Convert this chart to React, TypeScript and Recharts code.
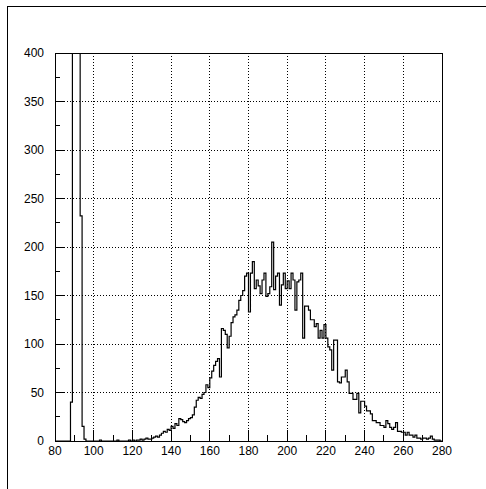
import { LineChart, Line, XAxis, YAxis, ReferenceLine, ReferenceArea } from 'recharts';

// histogram: 1-unit bins starting at 80
const binLow = 80;
const binHigh = 280;
const counts = [
  0, 0, 0, 0, 0, 0, 0, 0, 40, 1480,
  3900, 2650, 820, 232, 15, 2, 0, 0, 0, 0,
  0, 0, 0, 1, 0, 0, 0, 0, 0, 0,
  0, 0, 1, 0, 0, 0, 0, 0, 1, 0,
  1, 0, 1, 1, 2, 1, 2, 3, 2, 2,
  3, 4, 5, 4, 6, 8, 10, 9, 12, 11,
  15, 13, 18, 16, 23, 22, 20, 19, 21, 23,
  24, 27, 35, 42, 45, 44, 48, 50, 58, 55,
  65, 72, 78, 82, 85, 66, 116, 114, 110, 96,
  108, 122, 128, 130, 135, 145, 150, 155, 170, 173,
  133, 173, 185, 157, 166, 160, 152, 166, 173, 149,
  152, 159, 205, 156, 170, 173, 140, 161, 173, 157,
  165, 157, 173, 166, 135, 164, 166, 173, 106, 139,
  139, 135, 125, 125, 118, 121, 106, 114, 106, 120,
  106, 97, 94, 73, 104, 104, 61, 60, 66, 66,
  73, 61, 49, 49, 43, 43, 49, 29, 41, 41,
  36, 31, 31, 28, 21, 21, 19, 19, 16, 16,
  14, 21, 18, 14, 12, 14, 19, 10, 10, 9,
  9, 6, 9, 6, 6, 4, 6, 3, 3, 2,
  3, 3, 2, 3, 5, 2, 1, 1, 1, 0,
];

const xTicks = [80, 90, 100, 110, 120, 130, 140, 150, 160, 170, 180, 190, 200, 210, 220, 230, 240, 250, 260, 270, 280];
const xGrid = [100, 120, 140, 160, 180, 200, 220, 240, 260];
const yTicks = [0, 25, 50, 75, 100, 125, 150, 175, 200, 225, 250, 275, 300, 325, 350, 375, 400];
const yGrid = [50, 100, 150, 200, 250, 300, 350];

const data = counts.map((c, i) => ({ x: binLow + i, y: c }));
data.push({ x: binHigh, y: counts[counts.length - 1] });

const XTick = (props: any) => {
  const { x, y, payload } = props;
  const major = payload.value % 20 === 0;
  return (
    <g>
      <line x1={x} x2={x} y1={y} y2={y - (major ? 11 : 6)} stroke="#000" shapeRendering="crispEdges" />
      {major && (
        <text x={x} y={y + 14} textAnchor="middle" fontSize={12} fill="#000">
          {payload.value}
        </text>
      )}
    </g>
  );
};

const YTick = (props: any) => {
  const { x, y, payload } = props;
  const major = payload.value % 50 === 0;
  return (
    <g>
      <line x1={x} x2={x + (major ? 10 : 5)} y1={y} y2={y} stroke="#000" shapeRendering="crispEdges" />
      {major && (
        <text x={x - 11} y={y + 4} textAnchor="end" fontSize={12} fill="#000">
          {payload.value}
        </text>
      )}
    </g>
  );
};

export default function App() {
  return (
    <div
      style={{
        position: 'absolute', left: 0, top: 0, width: 486, height: 489,
        overflow: 'hidden', background: '#fff', fontFamily: '"Liberation Sans", Arial, sans-serif',
      }}
    >
      <div style={{ position: 'absolute', left: 7, top: 6, width: 520, height: 520, borderLeft: '1px solid #000', borderTop: '1px solid #000' }} />
      <div style={{ position: 'absolute', left: 0, top: 0 }}>
        <LineChart width={486} height={489} data={data} margin={{ top: 53, right: 44, bottom: 18, left: 15 }}>
          <XAxis
            type="number" dataKey="x" domain={[binLow, binHigh]} ticks={xTicks} interval={0}
            tick={XTick} tickSize={0} tickMargin={0} axisLine={false} tickLine={false} height={30}
          />
          <YAxis
            type="number" domain={[0, 400]} allowDataOverflow ticks={yTicks} interval={0}
            tick={YTick} tickSize={0} tickMargin={0} axisLine={false} tickLine={false} width={40}
          />
          {xGrid.map((v) => (
            <ReferenceLine key={'gx' + v} x={v} stroke="#000" strokeDasharray="1 2" shapeRendering="crispEdges" />
          ))}
          {yGrid.map((v) => (
            <ReferenceLine key={'gy' + v} y={v} stroke="#000" strokeDasharray="1 2" shapeRendering="crispEdges" />
          ))}
          <Line
            type="stepAfter" dataKey="y" stroke="#000" strokeWidth={1.2} dot={false}
            isAnimationActive={false}
          />
          <ReferenceArea x1={binLow} x2={binHigh} y1={0} y2={400} fill="none" stroke="#000" shapeRendering="crispEdges" />
        </LineChart>
      </div>
    </div>
  );
}
